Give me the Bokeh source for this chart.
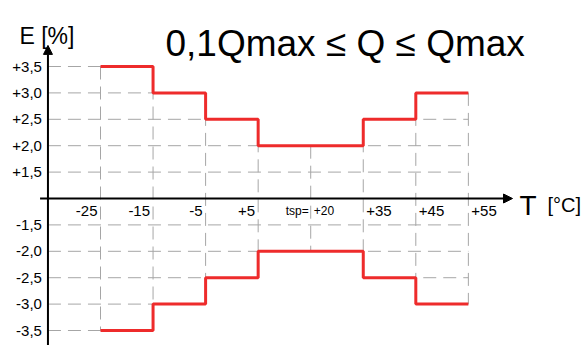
import numpy as np
from bokeh.plotting import figure
from bokeh.models import Range1d, Label, Arrow, NormalHead
from bokeh.embed import file_html
from bokeh.resources import INLINE
from bokeh.core.properties import value

# ---- data ----
temp_labels = ["-25", "-15", "-5", "+5", "+20", "+35", "+45", "+55"]
upper_err = [3.5, 3.0, 2.5, 2.0, 2.0, 2.5, 3.0]      # per temperature interval
lower_err = [-3.5, -3.0, -2.5, -2.0, -2.0, -2.5, -3.0]
y_tick_vals = [3.5, 3.0, 2.5, 2.0, 1.5, -1.5, -2.0, -2.5, -3.0, -3.5]
y_tick_labels = ["+3,5", "+3,0", "+2,5", "+2,0", "+1,5",
                 "-1,5", "-2,0", "-2,5", "-3,0", "-3,5"]
title_text = "0,1Qmax \u2264 Q \u2264 Qmax"
y_title = "E [%]"
x_title = "T"
x_unit = "[\u00b0C]"
tsp_prefix = "tsp="
tsp_index = 4

FONT = "Liberation Sans"


def pos(v):
    """broken y axis: 0 then 1.5, 2.0, ... one slot each"""
    v = np.asarray(v, dtype=float)
    return np.sign(v) * (np.abs(v) - 1.0) / 0.5


W, H = 584, 345
p = figure(width=W, height=H, x_range=Range1d(-1.903, 9.210),
           y_range=Range1d(-5.568, 7.5), output_backend="svg",
           toolbar_location=None, min_border=0,
           x_axis_location=None, y_axis_location=None)
p.grid.visible = False
p.outline_line_color = None
p.background_fill_color = "white"

n = len(temp_labels)
xs_idx = list(range(n))

# ---- dashed grid (only inside the error band) ----
gx, gy = [], []
for L in y_tick_vals:
    if L > 0:
        cond = [u >= L for u in upper_err]
    else:
        cond = [lo <= L for lo in lower_err]
    segs = [[-1, 0]]
    for i, c in enumerate(cond):
        if c:
            if segs[-1][1] == i:
                segs[-1][1] = i + 1
            else:
                segs.append([i, i + 1])
    for a, b in segs:
        gx.append([a, b])
        gy.append([float(pos(L)), float(pos(L))])

for s in xs_idx:
    adj = [k for k in (s - 1, s) if 0 <= k < len(upper_err)]
    top = max(upper_err[k] for k in adj)
    bot = min(lower_err[k] for k in adj)
    gx.append([s, s])
    gy.append([float(pos(top)), float(pos(bot))])

p.multi_line(xs=gx, ys=gy, line_color="#a6a6a6", line_width=1,
             line_dash="13 7")

# ---- error limit curves ----
RED = "#ee2b2b"
p.step(x=xs_idx, y=list(pos(upper_err + [upper_err[-1]])), mode="after",
       line_color=RED, line_width=3)
p.step(x=xs_idx, y=list(pos(lower_err + [lower_err[-1]])), mode="after",
       line_color=RED, line_width=3)

# ---- axes with arrows ----
p.add_layout(Arrow(end=NormalHead(size=9, fill_color="black", line_color="black"),
                   x_start=-1, y_start=-5.7, x_end=-1, y_end=5.8,
                   line_color="black", line_width=2))
p.add_layout(Arrow(end=NormalHead(size=9, fill_color="black", line_color="black"),
                   x_start=-1.15, y_start=0, x_end=7.84, y_end=0,
                   line_color="black", line_width=2))

# ---- y tick labels ----
p.text(x=[-1] * len(y_tick_vals), y=list(pos(y_tick_vals)), text=y_tick_labels,
       x_offset=-6, text_align="right", text_baseline="middle",
       text_font=value(FONT), text_font_size="15px", text_color="black")

# ---- x tick labels ----
left_idx = [i for i in xs_idx if i < tsp_index]
right_idx = [i for i in xs_idx if i > tsp_index]
p.text(x=left_idx, y=[0] * len(left_idx), text=[temp_labels[i] for i in left_idx],
       x_offset=-3, y_offset=12, text_align="right", text_baseline="middle",
       text_font=value(FONT), text_font_size="15px", text_color="black")
p.text(x=right_idx, y=[0] * len(right_idx), text=[temp_labels[i] for i in right_idx],
       x_offset=3, y_offset=12, text_align="left", text_baseline="middle",
       text_font=value(FONT), text_font_size="15px", text_color="black")
p.text(x=[tsp_index], y=[0], text=[temp_labels[tsp_index]],
       x_offset=3, y_offset=12, text_align="left", text_baseline="middle",
       text_font=value(FONT), text_font_size="12px", text_color="black")
p.text(x=[tsp_index], y=[0], text=[tsp_prefix],
       x_offset=-2, y_offset=12, text_align="right", text_baseline="middle",
       text_font=value(FONT), text_font_size="12px", text_color="black")

# ---- titles ----
p.add_layout(Label(x=165, y=302, x_units="screen", y_units="screen",
                   text=title_text, text_font=FONT, text_font_size="37px",
                   text_baseline="alphabetic", text_color="black"))
p.add_layout(Label(x=19, y=310, x_units="screen", y_units="screen",
                   text=y_title, text_font=FONT, text_font_size="23px",
                   text_baseline="alphabetic", text_color="black"))
p.add_layout(Label(x=519, y=140, x_units="screen", y_units="screen",
                   text=x_title, text_font=FONT, text_font_size="28px",
                   text_baseline="alphabetic", text_color="black"))
p.add_layout(Label(x=547, y=141, x_units="screen", y_units="screen",
                   text=x_unit, text_font=FONT, text_font_size="20px",
                   text_baseline="alphabetic", text_color="black"))

open("out.html", "w").write(file_html(p, INLINE))
